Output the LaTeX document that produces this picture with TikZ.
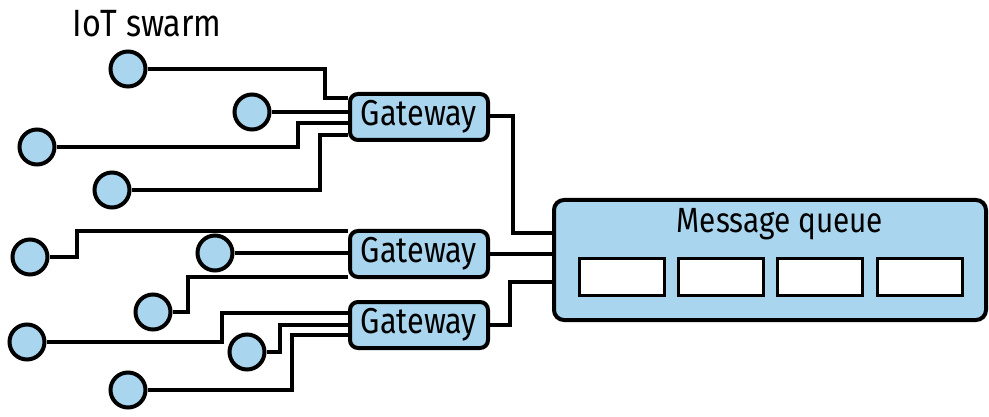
\documentclass[tikz,border=0pt]{standalone}
\usepackage{fontspec}
\setmainfont{Fira Sans}[FakeStretch=0.85]
\usetikzlibrary{positioning}
\definecolor{iotblue}{HTML}{A9D6EE}

\begin{document}
\begin{tikzpicture}[x=1pt,y=-1pt,
  bold/.style={line width=4pt},
  device/.style={circle,draw,bold,fill=iotblue,minimum size=35pt,inner sep=0pt},
  gateway/.style={rectangle,rounded corners=8pt,draw,bold,fill=iotblue,minimum width=138pt,minimum height=46pt,inner sep=0pt,font=\fontsize{36}{40}\selectfont},
  slot/.style={rectangle,draw,line width=3.2pt,fill=white,minimum width=85pt,minimum height=37pt,inner sep=0pt},
  wire/.style={bold,line join=miter}]
\useasboundingbox (0,0) rectangle (989,417);
\node[font=\fontsize{38}{42}\selectfont] (title) at (147,24) {IoT swarm};
%gateways and queue
\node[gateway] (g1) at (419,117) {Gateway};
\node[gateway] (g2) at (419,254) {Gateway};
\node[gateway] (g3) at (419,325) {Gateway};
\node[rectangle,rounded corners=10pt,draw,bold,fill=iotblue,minimum width=432pt,minimum height=120pt] (mq) at (770,260) {};
\node[font=\fontsize{35}{40}\selectfont] (mqlabel) at (780,224) {Message queue};
\node[slot] (s1) at (622,277) {};
\node[slot] (s2) at (721,277) {};
\node[slot] (s3) at (820,277) {};
\node[slot] (s4) at (920,277) {};
%devices
\node[device] (d1) at (128,69) {};
\node[device] (d2) at (252,112) {};
\node[device] (d3) at (37,147) {};
\node[device] (d4) at (112,190) {};
\node[device] (d5) at (30,257) {};
\node[device] (d6) at (215,253) {};
\node[device] (d7) at (153,312) {};
\node[device] (d8) at (27,342) {};
\node[device] (d9) at (247,352) {};
\node[device] (d10) at (128,390) {};
%wires to first gateway
\draw[wire] (d1.east) -| ([xshift=-23pt,yshift=19pt]g1.west) -- ([yshift=19pt]g1.west);
\draw[wire] (d2.east) -- (g1.west |- d2.east);
\draw[wire] (d3.east) -| ([xshift=-50pt,yshift=-6pt]g1.west) -- ([yshift=-6pt]g1.west);
\draw[wire] (d4.east) -| ([xshift=-28pt,yshift=-18pt]g1.west) -- ([yshift=-18pt]g1.west);
%wires to second gateway
\draw[wire] (d5.east) -| ([xshift=-271pt,yshift=23pt]g2.west) -- ([yshift=23pt]g2.west);
\draw[wire] (d6.east) -- (g2.west |- d6.east);
\draw[wire] (d7.east) -| ([xshift=-160pt,yshift=-23pt]g2.west) -- ([yshift=-23pt]g2.west);
%wires to third gateway
\draw[wire] (d8.east) -| ([xshift=-126pt,yshift=12pt]g3.west) -- ([yshift=12pt]g3.west);
\draw[wire] (d9.east) -| ([xshift=-68pt]g3.west) -- (g3.west);
\draw[wire] (d10.east) -| ([xshift=-56pt,yshift=-10pt]g3.west) -- ([yshift=-10pt]g3.west);
%gateways to queue
\draw[wire] ([yshift=1pt]g1.east) -| ([xshift=-39pt,yshift=27pt]mq.west) -- ([yshift=27pt]mq.west);
\draw[wire] (g2.east) -- (mq.west |- g2.east);
\draw[wire] (g3.east) -| ([xshift=-42pt,yshift=-22pt]mq.west) -- ([yshift=-22pt]mq.west);
\end{tikzpicture}
\end{document}
